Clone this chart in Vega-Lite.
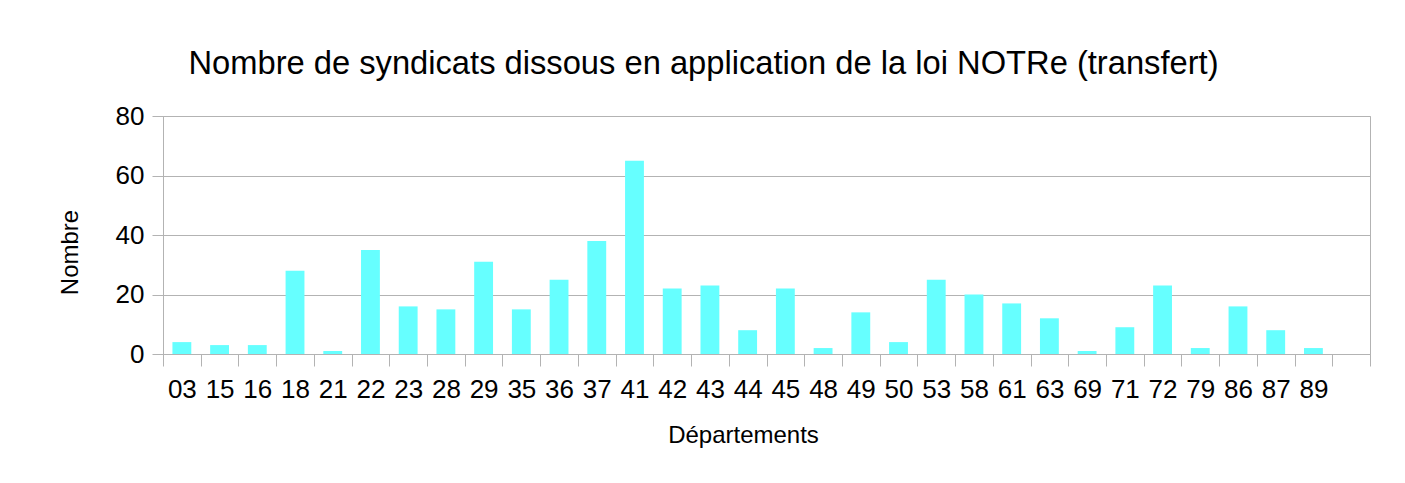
{
  "$schema": "https://vega.github.io/schema/vega-lite/v6.json",
  "width": 1207,
  "height": 238,
  "autosize": {"type": "none"},
  "padding": {"left": 163, "top": 116, "right": 35, "bottom": 129},
  "background": "white",
  "title": {
    "text": "Nombre de syndicats dissous en application de la loi NOTRe (transfert)",
    "font": "Liberation Sans",
    "fontSize": 32.7,
    "fontWeight": "normal",
    "color": "#000000",
    "anchor": "middle",
    "dx": -63,
    "offset": 22
  },
  "data": {
    "values": [
      {"dep": "03", "n": 4}, {"dep": "15", "n": 3}, {"dep": "16", "n": 3},
      {"dep": "18", "n": 28}, {"dep": "21", "n": 1}, {"dep": "22", "n": 35},
      {"dep": "23", "n": 16}, {"dep": "28", "n": 15}, {"dep": "29", "n": 31},
      {"dep": "35", "n": 15}, {"dep": "36", "n": 25}, {"dep": "37", "n": 38},
      {"dep": "41", "n": 65}, {"dep": "42", "n": 22}, {"dep": "43", "n": 23},
      {"dep": "44", "n": 8}, {"dep": "45", "n": 22}, {"dep": "48", "n": 2},
      {"dep": "49", "n": 14}, {"dep": "50", "n": 4}, {"dep": "53", "n": 25},
      {"dep": "58", "n": 20}, {"dep": "61", "n": 17}, {"dep": "63", "n": 12},
      {"dep": "69", "n": 1}, {"dep": "71", "n": 9}, {"dep": "72", "n": 23},
      {"dep": "79", "n": 2}, {"dep": "86", "n": 16}, {"dep": "87", "n": 8},
      {"dep": "89", "n": 2}
    ]
  },
  "mark": {"type": "bar", "color": "#66ffff", "width": {"band": 0.5}},
  "encoding": {
    "x": {
      "field": "dep",
      "type": "nominal",
      "scale": {
        "domain": ["03","15","16","18","21","22","23","28","29","35","36","37","41","42","43","44","45","48","49","50","53","58","61","63","69","71","72","79","86","87","89"," "],
        "paddingInner": 0,
        "paddingOuter": 0
      },
      "axis": {
        "title": "Départements",
        "labelAngle": 0,
        "tickBand": "extent",
        "grid": false,
        "tickSize": 12,
        "labelPadding": 10,
        "titleX": 580,
        "titleY": 88,
        "titleBaseline": "alphabetic",
        "titleAlign": "center"
      }
    },
    "y": {
      "field": "n",
      "type": "quantitative",
      "scale": {"domain": [0, 80], "nice": false},
      "axis": {
        "title": "Nombre",
        "values": [0, 20, 40, 60, 80],
        "tickSize": 11,
        "labelPadding": 8,
        "titleX": -86,
        "titleY": 136,
        "titleBaseline": "alphabetic",
        "titleAlign": "center",
        "titleAngle": -90
      }
    }
  },
  "config": {
    "view": {"stroke": "#b3b3b3", "strokeWidth": 1},
    "axis": {
      "domainColor": "#b3b3b3",
      "tickColor": "#b3b3b3",
      "gridColor": "#b3b3b3",
      "gridOpacity": 1,
      "labelFont": "Liberation Sans",
      "labelFontSize": 26,
      "labelColor": "#000000",
      "titleFont": "Liberation Sans",
      "titleFontSize": 24,
      "titleFontWeight": "normal",
      "titleColor": "#000000"
    }
  }
}
